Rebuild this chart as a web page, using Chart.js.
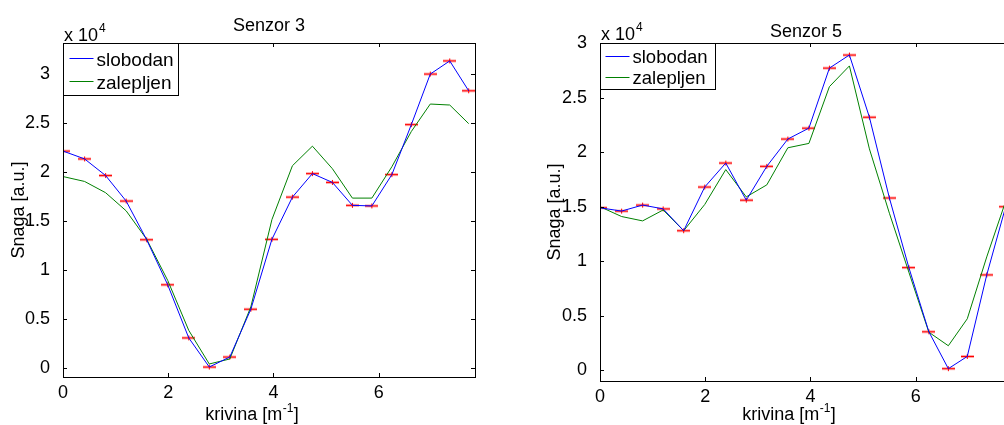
<!DOCTYPE html>
<html>
<head>
<meta charset="utf-8">
<script src="https://cdn.jsdelivr.net/npm/chart.js@4.4.1/dist/chart.umd.min.js"></script>
<style>
html, body { margin: 0; padding: 0; background: #fff; overflow: hidden; width: 1004px; height: 425px; }
.plot { position: absolute; top: 0; width: 500px; height: 425px; }
#p3 { left: 0; }
#p5 { left: 537px; }
</style>
</head>
<body>
<div class="plot" id="p3"><canvas id="c3"></canvas></div>
<div class="plot" id="p5"><canvas id="c5"></canvas></div>
<script>
// krivina [1/m] - ista za oba senzora
const krivina = [0, 0.41, 0.81, 1.20, 1.59, 1.99, 2.39, 2.78, 3.17, 3.57, 3.97, 4.36, 4.74, 5.12, 5.50, 5.87, 6.25, 6.62, 6.98, 7.35, 7.71];

const s3Slobodan  = [22100, 21300, 19600, 17000, 13050, 8450, 3030, 60, 1080, 5960, 13090, 17400, 19800, 18900, 16560, 16500, 19700, 24800, 29960, 31300, 28250];
const s3Zalepljen = [19500, 19000, 17850, 16000, 13100, 8900, 3800, 370, 880, 6200, 15100, 20600, 22600, 20300, 17300, 17300, 20500, 24100, 26900, 26800, 24900];

const s5Slobodan  = [14900, 14600, 15150, 14800, 12800, 16800, 19000, 15600, 18700, 21200, 22200, 27700, 28900, 23200, 15800, 9420, 3540, 160, 1280, 8750, 15000];
const s5Zalepljen = [15000, 14100, 13700, 14700, 12800, 15200, 18400, 15900, 17000, 20400, 20800, 26000, 27900, 20300, 14400, 9000, 3500, 2260, 4730, 10400, 15500];

const xTicks = [0, 2, 4, 6];
const yTicks3 = [0, 5000, 10000, 15000, 20000, 25000, 30000];
const yTicks5 = [0, 5000, 10000, 15000, 20000, 25000, 30000];

const FONT = '"Liberation Sans", Arial, Helvetica, sans-serif';

// crveni marker (errorbar)
function napraviMarker() {
    const c = document.createElement('canvas');
    c.width = 13; c.height = 7;
    const g = c.getContext('2d');
    g.fillStyle = 'rgba(255,0,0,0.35)';
    g.fillRect(0, 2, 13, 3);
    g.fillStyle = '#ff0000';
    g.fillRect(0, 3, 13, 1);
    g.fillRect(6, 1, 1, 5);
    return c;
}
const marker = napraviMarker();

function tacke(vals) {
    return krivina.map((k, i) => ({ x: k, y: vals[i] }));
}

// matlab izgled: okvir, ticks unutra, naslovi, legenda
const matlabLook = {
    id: 'matlabLook',
    afterDatasetsDraw(chart, args, o) {
        const { ctx, chartArea: a, scales: { x, y } } = chart;
        ctx.save();
        ctx.strokeStyle = '#000';
        ctx.lineWidth = 1;
        ctx.beginPath();
        x.ticks.forEach(t => {
            const px = Math.round(x.getPixelForValue(t.value)) + 0.5;
            ctx.moveTo(px, a.bottom); ctx.lineTo(px, a.bottom - 4);
            ctx.moveTo(px, a.top); ctx.lineTo(px, a.top + 4);
        });
        y.ticks.forEach(t => {
            const py = Math.round(y.getPixelForValue(t.value)) + 0.5;
            ctx.moveTo(a.left, py); ctx.lineTo(a.left + 4, py);
            ctx.moveTo(a.right, py); ctx.lineTo(a.right - 4, py);
        });
        ctx.stroke();
        ctx.strokeRect(a.left + 0.5, a.top + 0.5, a.right - a.left, a.bottom - a.top);

        ctx.fillStyle = '#000';
        // naslov
        ctx.font = '18px ' + FONT;
        ctx.textAlign = 'center';
        ctx.textBaseline = 'alphabetic';
        ctx.fillText(o.title, (a.left + a.right) / 2, o.titleY);

        // x 10^4
        ctx.textAlign = 'left';
        ctx.fillText('x 10', a.left + 1, o.expY);
        const w10 = ctx.measureText('x 10').width;
        ctx.font = '12px ' + FONT;
        ctx.fillText('4', a.left + 1 + w10 + 1, o.expY - 9);

        // x label sa eksponentom
        ctx.font = '18px ' + FONT;
        const t1 = 'krivina [m', t3 = ']';
        const w1 = ctx.measureText(t1).width, w3 = ctx.measureText(t3).width;
        ctx.font = '12px ' + FONT;
        const w2 = ctx.measureText('-1').width;
        const start = (a.left + a.right) / 2 - 17 - (w1 + w2 + w3 + 1) / 2;
        ctx.font = '18px ' + FONT;
        ctx.fillText(t1, start, 419.5);
        ctx.font = '12px ' + FONT;
        ctx.fillText('-1', start + w1 + 0.5, 411.5);
        ctx.font = '18px ' + FONT;
        ctx.fillText(t3, start + w1 + w2 + 1, 419.5);

        // y label
        ctx.save();
        ctx.translate(o.yLabelX, (a.top + a.bottom) / 2);
        ctx.rotate(-Math.PI / 2);
        ctx.textAlign = 'center';
        ctx.fillText('Snaga [a.u.]', 0, 0);
        ctx.restore();

        // legenda
        const L = o.legend;
        const lx = a.left + 0.5, ly = a.top + 0.5;
        ctx.fillStyle = '#fff';
        ctx.fillRect(lx, ly, L.w, L.h);
        ctx.strokeRect(lx, ly, L.w, L.h);
        ctx.font = L.font + 'px ' + FONT;
        chart.data.datasets.filter(d => d.label).forEach((d, i) => {
            const by = ly + L.rows[i];
            ctx.strokeStyle = d.borderColor;
            ctx.lineWidth = 1;
            ctx.beginPath();
            ctx.moveTo(lx + L.line[0], Math.round(by - L.lineOff) + 0.5);
            ctx.lineTo(lx + L.line[1], Math.round(by - L.lineOff) + 0.5);
            ctx.stroke();
            ctx.fillStyle = '#000';
            ctx.fillText(d.label, lx + L.text, by);
        });
        ctx.restore();
    }
};

function napraviGrafik(id, slobodan, zalepljen, yTicks, yMin, yMax, bottomH, look) {
    new Chart(document.getElementById(id), {
        type: 'line',
        data: {
            datasets: [
                { label: 'slobodan', data: tacke(slobodan), borderColor: '#0000ff', borderWidth: 1, pointRadius: 0, tension: 0, clip: 0 },
                { label: 'zalepljen', data: tacke(zalepljen), borderColor: '#008000', borderWidth: 1, pointRadius: 0, tension: 0, clip: 0 },
                { label: '', data: tacke(slobodan), showLine: false, pointStyle: marker, pointRadius: 6, clip: 0 }
            ]
        },
        options: {
            responsive: true,
            maintainAspectRatio: false,
            animation: false,
            devicePixelRatio: 1,
            layout: { padding: { top: 43, right: 25, left: 0, bottom: 0 } },
            plugins: {
                legend: { display: false },
                tooltip: { enabled: false },
                matlabLook: look
            },
            scales: {
                x: {
                    type: 'linear', min: 0, max: 7.83,
                    grid: { display: false }, border: { display: false },
                    ticks: { color: '#000', font: { family: FONT, size: 18 }, padding: -3, autoSkip: false, maxRotation: 0 },
                    afterBuildTicks: s => { s.ticks = xTicks.map(v => ({ value: v })); },
                    afterFit: s => { s.height = bottomH; }
                },
                y: {
                    type: 'linear', min: yMin, max: yMax,
                    grid: { display: false }, border: { display: false },
                    ticks: { color: '#000', font: { family: FONT, size: 18 }, padding: 5, autoSkip: false,
                        callback: v => String(v / 10000) },
                    afterBuildTicks: s => { s.ticks = yTicks.map(v => ({ value: v })); },
                    afterFit: s => { s.width = 63; }
                }
            }
        },
        plugins: [matlabLook]
    });
}

napraviGrafik('c3', s3Slobodan, s3Zalepljen, yTicks3, -960, 33130, 48, {
    title: 'Senzor 3', titleY: 30.5, expY: 41, yLabelX: 23.5,
    legend: { w: 115, h: 52, rows: [22, 45.3], line: [6, 30], lineOff: 8, text: 33, font: 19 }
});
napraviGrafik('c5', s5Slobodan, s5Zalepljen, yTicks5, -970, 30000, 44, {
    title: 'Senzor 5', titleY: 36.5, expY: 40, yLabelX: 22.5,
    legend: { w: 115, h: 46, rows: [19.3, 40.3], line: [5, 29], lineOff: 7, text: 32, font: 18.5 }
});
</script>
</body>
</html>
